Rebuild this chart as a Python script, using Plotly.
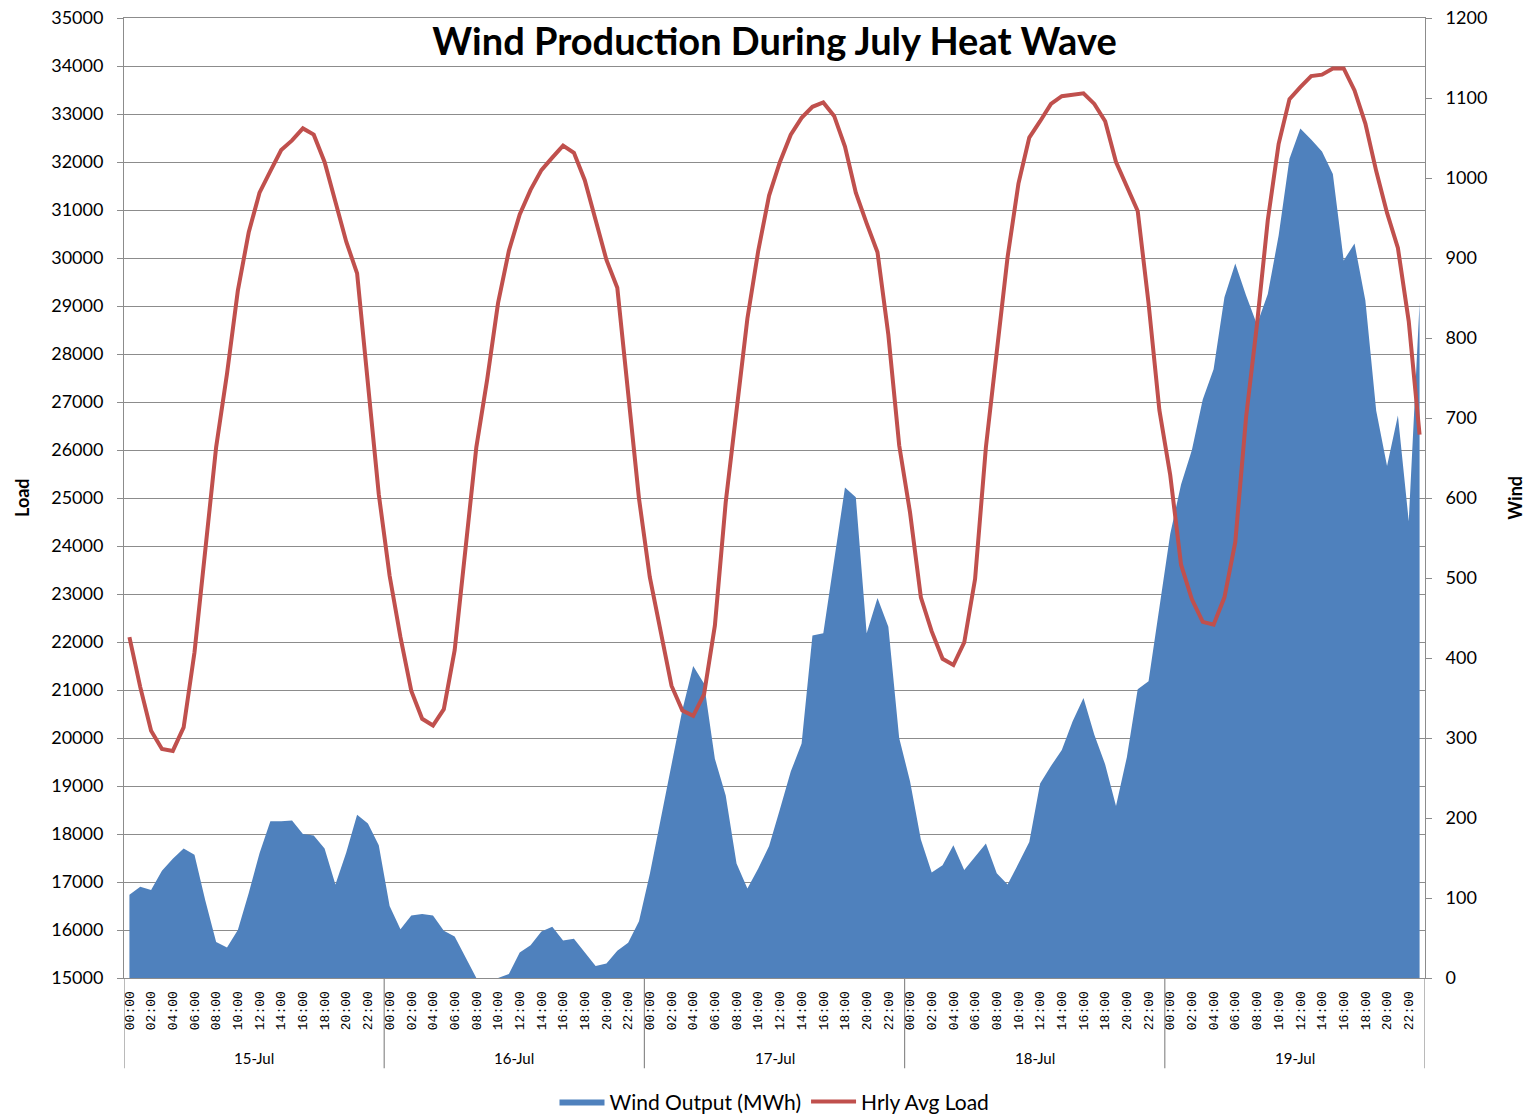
import plotly.graph_objects as go

# ── Data ───────────────────────────────────────────────────────────────────
days = ["15-Jul", "16-Jul", "17-Jul", "18-Jul", "19-Jul"]
hours = [f"{h:02d}:00" for h in range(24)]

# hourly average load (MW), one list per day
load_15 = [22100, 21060, 20150, 19770, 19730, 20220, 21780, 23890, 26060, 27590, 29320, 30530,
           31360, 31810, 32250, 32450, 32700, 32570, 32000, 31170, 30340, 29680, 27430, 25080]
load_16 = [23380, 22100, 20980, 20400, 20260, 20600, 21830, 23890, 26060, 27470, 29060, 30150,
           30910, 31420, 31830, 32090, 32340, 32190, 31620, 30790, 29960, 29380, 27220, 24990]
load_17 = [23350, 22200, 21090, 20570, 20460, 20910, 22340, 24910, 26830, 28740, 30150, 31300,
           32000, 32570, 32920, 33150, 33240, 32960, 32320, 31360, 30720, 30120, 28400, 26100]
load_18 = [24700, 22930, 22220, 21650, 21520, 21990, 23310, 26060, 28040, 30020, 31550, 32510,
           32850, 33210, 33370, 33400, 33430, 33210, 32850, 32000, 31490, 30980, 29060, 26830]
load_19 = [25480, 23610, 22890, 22420, 22360, 22930, 24080, 26690, 28610, 30790, 32380, 33310,
           33560, 33790, 33820, 33950, 33950, 33490, 32800, 31810, 30940, 30210, 28680, 26320]

# wind output (MWh), one list per day
wind_15 = [104, 114, 110, 134, 149, 162, 154, 97, 45, 38, 60, 106,
           156, 196, 196, 197, 180, 178, 162, 117, 157, 204, 193, 166]
wind_16 = [90, 61, 78, 80, 78, 59, 52, 26, 0, 0, 0, 5,
           32, 41, 58, 64, 47, 49, 32, 15, 18, 34, 44, 71]
wind_17 = [130, 198, 265, 335, 390, 368, 274, 228, 143, 112, 137, 165,
           211, 258, 293, 428, 431, 520, 613, 601, 431, 475, 439, 300]
wind_18 = [246, 173, 132, 141, 166, 135, 152, 168, 131, 117, 143, 170,
           243, 265, 285, 321, 350, 304, 267, 215, 276, 361, 371, 465]
wind_19 = [555, 617, 660, 723, 761, 851, 893, 853, 817, 855, 928, 1024,
           1062, 1048, 1033, 1005, 897, 918, 847, 709, 640, 703, 571, 844]

load = load_15 + load_16 + load_17 + load_18 + load_19
wind = wind_15 + wind_16 + wind_17 + wind_18 + wind_19
x_cats = [f"{d} {h}" for d in days for h in hours]

BLUE = "#4F81BD"
RED = "#C0504D"
GRID = "#8C8C8C"
FONT = "Lato, Open Sans, sans-serif"

fig = go.Figure()

# wind area on the primary axis (right), load on the overlay (left) so the line sits on top
fig.add_trace(go.Scatter(
    x=x_cats, y=wind, name="Wind Output (MWh)", mode="lines",
    fill="tozeroy", fillcolor=BLUE, line=dict(color=BLUE, width=0),
    yaxis="y",
))
fig.add_trace(go.Scatter(
    x=x_cats, y=load, name="Hrly Avg Load", mode="lines",
    line=dict(color=RED, width=4), yaxis="y2",
))

# day separators below the axis
n = len(hours)
shapes = []
for k in range(len(days) + 1):
    shapes.append(dict(type="line", xref="x", yref="paper",
                       x0=k * n - 0.5, x1=k * n - 0.5, y0=0, y1=-0.094,
                       line=dict(color=GRID, width=1.2)))

annotations = [
    dict(text=d, xref="x", yref="paper", x=k * n + (n - 1) / 2, y=-0.083,
         showarrow=False, font=dict(family=FONT, size=15, color="#000"),
         yanchor="middle")
    for k, d in enumerate(days)
]
annotations += [
    dict(text="<b>Load</b>", xref="paper", yref="paper", x=-0.0784, y=0.5,
         xanchor="center", yanchor="middle", textangle=-90, showarrow=False,
         font=dict(family=FONT, size=18, color="#000")),
    dict(text="<b>Wind</b>", xref="paper", yref="paper", x=1.069, y=0.5,
         xanchor="center", yanchor="middle", textangle=-90, showarrow=False,
         font=dict(family=FONT, size=18, color="#000")),
]

# the page adds an 8px body margin, so the figure is shifted by 8px
W, H = 1523, 1108
fig.update_layout(
    width=W, height=H,
    margin=dict(l=116, r=106, t=10, b=138, autoexpand=False),
    paper_bgcolor="white", plot_bgcolor="white",
    title=dict(text="<b>Wind Production During July Heat Wave</b>",
               x=0.5, xref="paper", y=1 - 34 / H, yref="container",
               yanchor="middle", font=dict(family=FONT, size=38, color="#000")),
    xaxis=dict(
        type="category", range=[-0.5, len(x_cats) - 0.5], automargin=False,
        tickvals=x_cats[::2], ticktext=[h for d in days for h in hours[::2]],
        tickangle=-90, tickfont=dict(family="Liberation Mono", size=13, color="#000"),
        ticks="", showgrid=False, showline=True, linecolor=GRID, mirror=True,
        ticklabelstandoff=7,
    ),
    yaxis=dict(
        side="right", range=[0, 1200], dtick=100, showgrid=False, zeroline=False,
        showline=True, linecolor=GRID, ticks="outside", ticklen=6, tickcolor=GRID,
        tickfont=dict(family=FONT, size=18, color="#000"), ticklabelstandoff=10,
        ticklabeloverflow="allow", automargin=False,
    ),
    yaxis2=dict(
        overlaying="y", side="left", range=[15000, 35000], dtick=1000,
        showgrid=True, gridcolor=GRID, gridwidth=1.2, zeroline=False,
        showline=True, linecolor=GRID, ticks="outside", ticklen=6, tickcolor=GRID,
        tickformat="d", tickfont=dict(family=FONT, size=18, color="#000"),
        ticklabelstandoff=10, ticklabeloverflow="allow", automargin=False,
    ),
    legend=dict(orientation="h", x=0.5, xanchor="center", y=-0.129, yanchor="middle",
                itemwidth=45, font=dict(family=FONT, size=21, color="#000")),
    shapes=shapes,
    annotations=annotations,
)

fig.write_html("out.html")
